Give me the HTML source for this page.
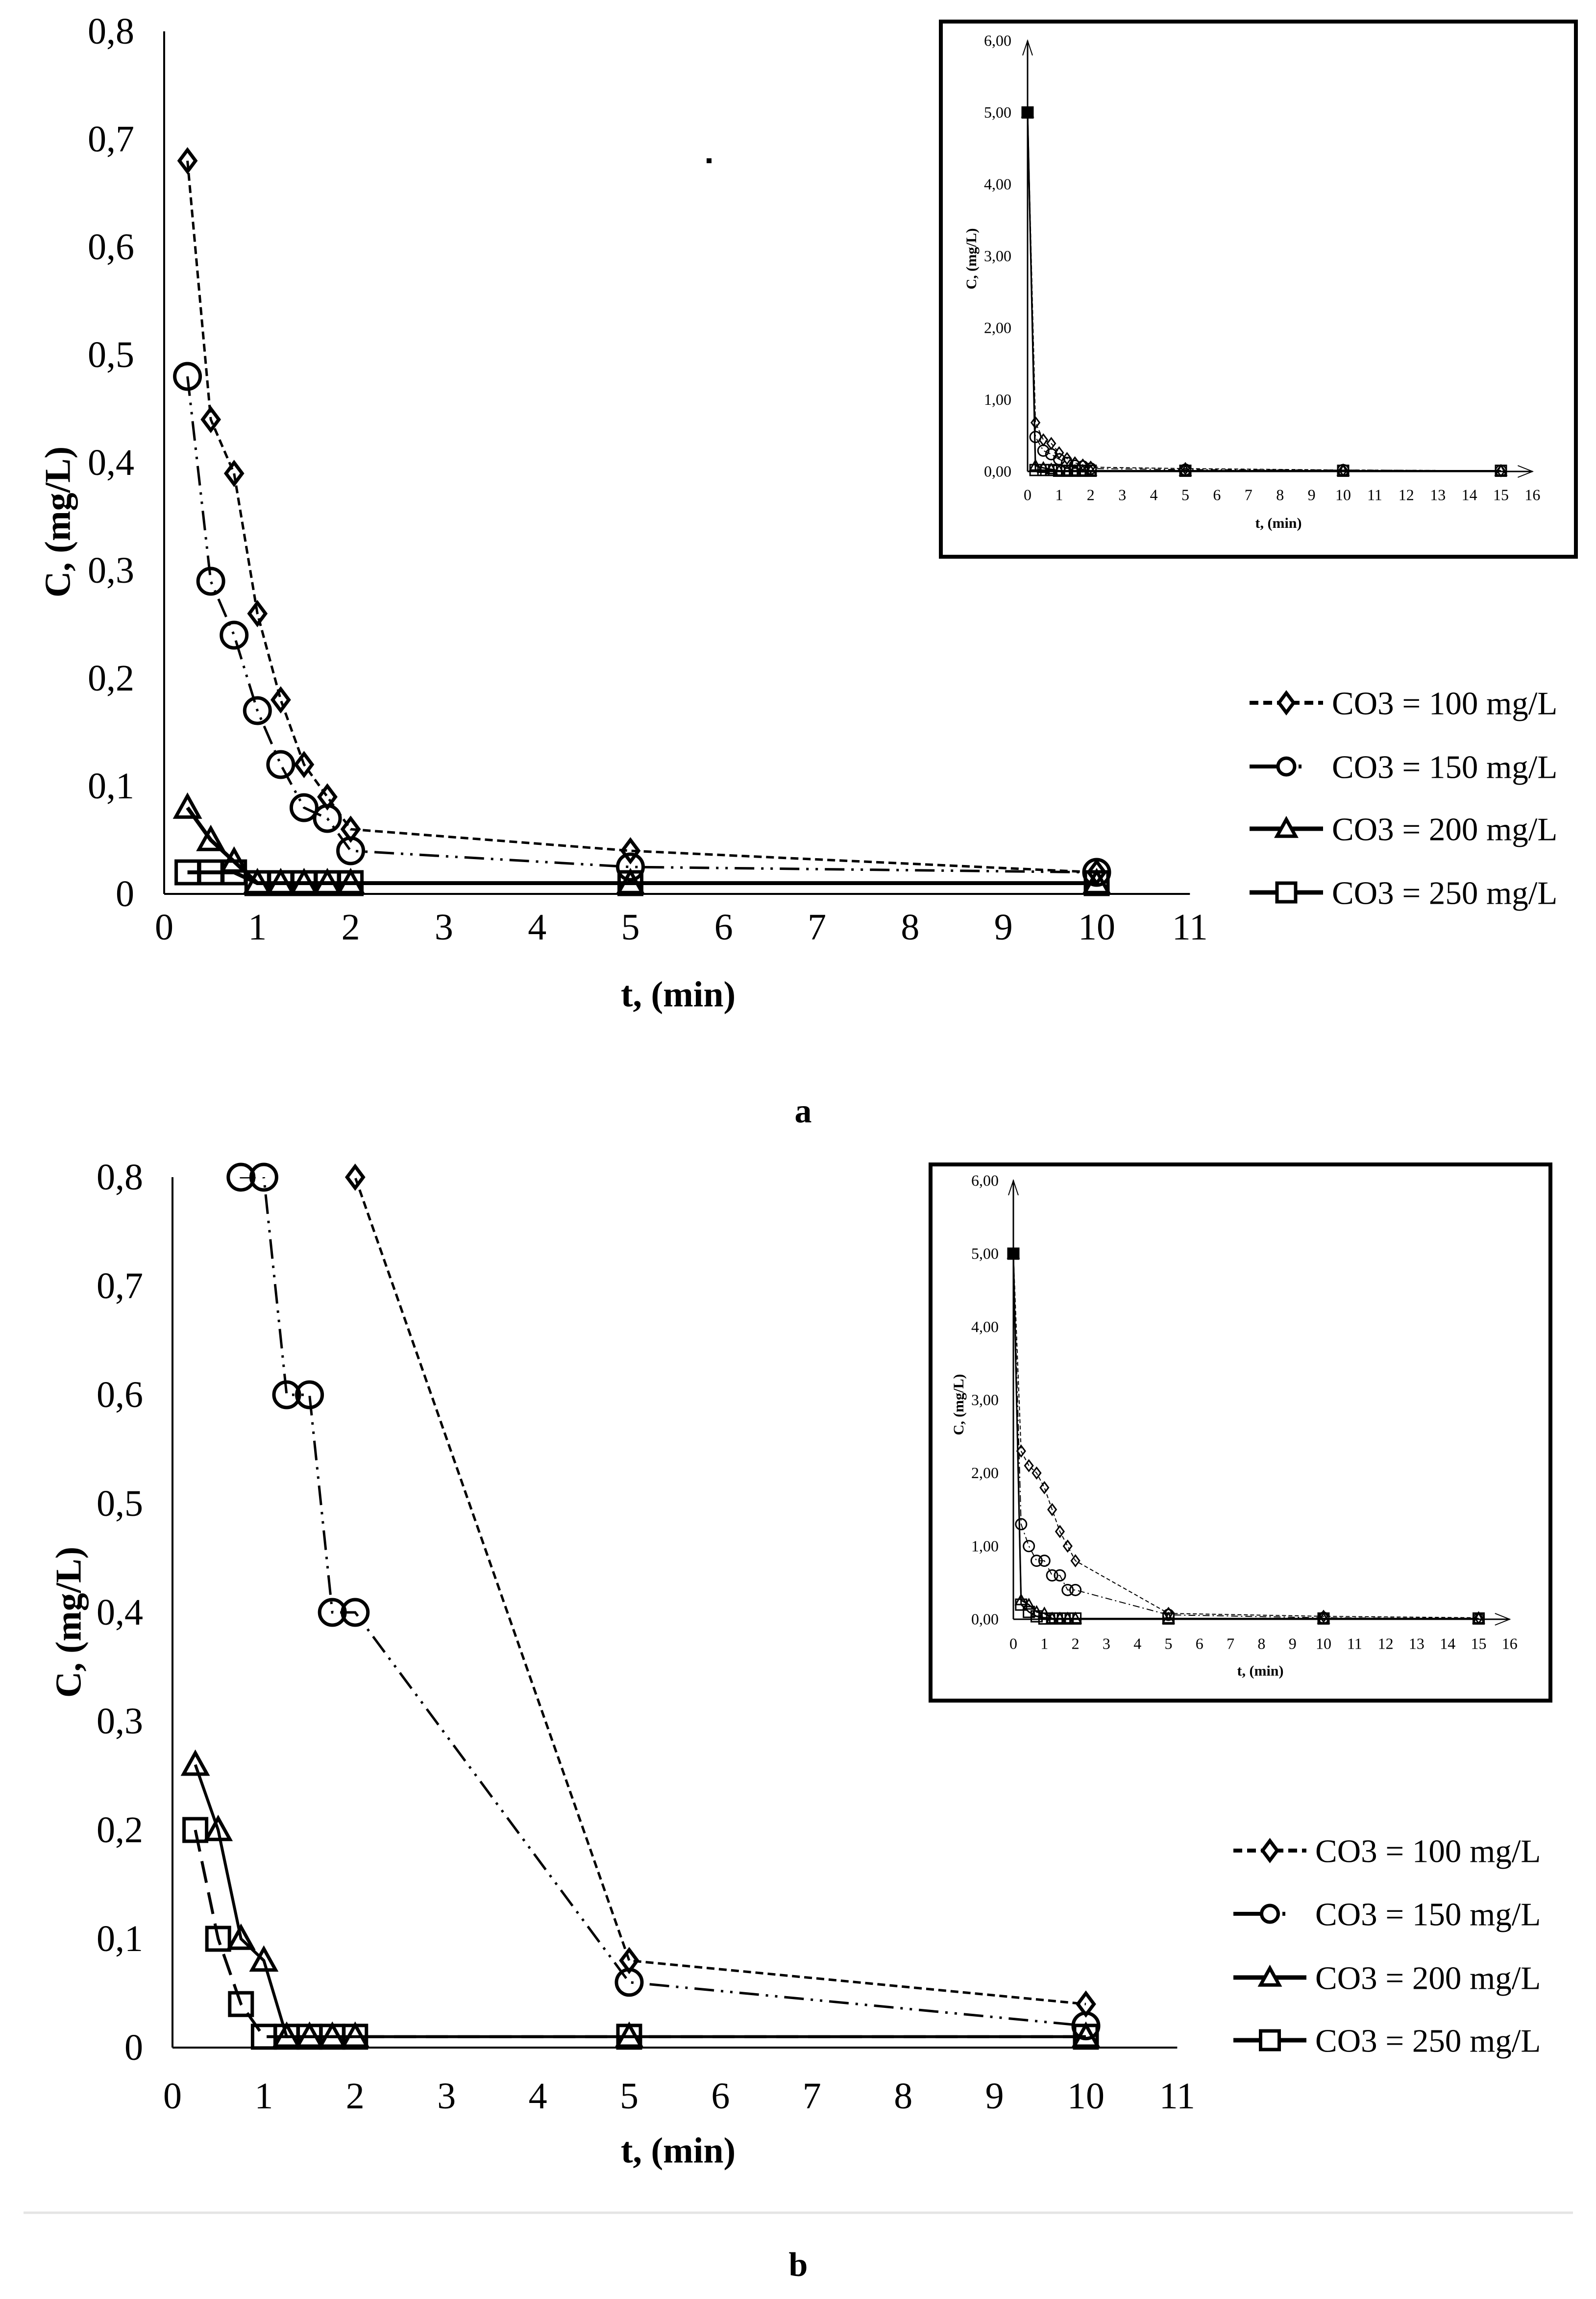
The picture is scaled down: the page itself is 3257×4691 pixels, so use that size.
<!DOCTYPE html>
<html><head><meta charset="utf-8"><style>
html,body{margin:0;padding:0;background:#fff;}
svg{display:block;font-family:"Liberation Serif",serif;}
</style></head><body>
<svg id="fig" width="3257" height="4691" viewBox="0 0 3257 4691" xmlns="http://www.w3.org/2000/svg"></svg>
<script>
// ---- data ----
const tA = [0.25,0.5,0.75,1,1.25,1.5,1.75,2,5,10];
const a100 = [0.68,0.44,0.39,0.26,0.18,0.12,0.09,0.06,0.04,0.02];
const a150 = [0.48,0.29,0.24,0.17,0.12,0.08,0.07,0.04,0.025,0.02];
const a200 = [0.08,0.05,0.03,0.01,0.01,0.01,0.01,0.01,0.01,0.01];
const a250 = [0.02,0.02,0.02,0.01,0.01,0.01,0.01,0.01,0.01,0.01];
const tIn = [0,0.25,0.5,0.75,1,1.25,1.5,1.75,2,5,10,15];
const ia100 = [5,0.68,0.44,0.39,0.26,0.18,0.12,0.09,0.06,0.04,0.02,0.01];
const ia150 = [5,0.48,0.29,0.24,0.17,0.12,0.08,0.07,0.04,0.025,0.02,0.01];
const ia200 = [5,0.08,0.05,0.03,0.01,0.01,0.01,0.01,0.01,0.01,0.01,0.01];
const ia250 = [5,0.02,0.02,0.02,0.01,0.01,0.01,0.01,0.01,0.01,0.01,0.01];
const b100 = [2.3,2.1,2.0,1.8,1.5,1.2,1.0,0.8,0.08,0.04];
const b150 = [1.3,1.0,0.8,0.8,0.6,0.6,0.4,0.4,0.06,0.02];
const b200 = [0.26,0.2,0.1,0.08,0.01,0.01,0.01,0.01,0.01,0.01];
const b250 = [0.2,0.1,0.04,0.01,0.01,0.01,0.01,0.01,0.01,0.01];
const ib100 = [5,2.3,2.1,2.0,1.8,1.5,1.2,1.0,0.8,0.08,0.04,0.02];
const ib150 = [5,1.3,1.0,0.8,0.8,0.6,0.6,0.4,0.4,0.06,0.02,0.01];
const ib200 = [5,0.26,0.2,0.1,0.08,0.01,0.01,0.01,0.01,0.01,0.01,0.01];
const ib250 = [5,0.2,0.1,0.04,0.01,0.01,0.01,0.01,0.01,0.01,0.01,0.01];
const mainYTicks = ["0","0,1","0,2","0,3","0,4","0,5","0,6","0,7","0,8"];
const mainXTicks = ["0","1","2","3","4","5","6","7","8","9","10","11"];
const inYTicks = ["0,00","1,00","2,00","3,00","4,00","5,00","6,00"];
const inXTicks = ["0","1","2","3","4","5","6","7","8","9","10","11","12","13","14","15","16"];
const legendLabels = ["CO3 = 100 mg/L","CO3 = 150 mg/L","CO3 = 200 mg/L","CO3 = 250 mg/L"];

const NS="http://www.w3.org/2000/svg";
const svg=document.getElementById('fig');
function el(tag,attrs,parent){const e=document.createElementNS(NS,tag);for(const k in attrs)e.setAttribute(k,attrs[k]);(parent||svg).appendChild(e);return e;}
function txt(s,x,y,size,anchor,weight,parent){const t=el('text',{x:x,y:y,'font-size':size,'text-anchor':anchor||'start','font-weight':weight||'normal',fill:'#000'},parent);t.textContent=s;return t;}

function marker(g,kind,x,y,s,sw,fill){
  let m;
  if(kind==='d'){m=el('polygon',{points:`${x},${y-s} ${x+s*0.75},${y} ${x},${y+s} ${x-s*0.75},${y}`,fill:fill,stroke:'#000','stroke-width':sw},g);}
  else if(kind==='o'){m=el('circle',{cx:x,cy:y,r:s,fill:fill,stroke:'#000','stroke-width':sw},g);}
  else if(kind==='t'){m=el('polygon',{points:`${x},${y-s} ${x+s},${y+s*0.8} ${x-s},${y+s*0.8}`,fill:fill,stroke:'#000','stroke-width':sw},g);}
  else {m=el('rect',{x:x-s,y:y-s,width:2*s,height:2*s,fill:fill,stroke:'#000','stroke-width':sw},g);}
  return m;
}

function drawChart(c){
  const g=el('g',{});
  
  
  const X=v=>c.x0+v*c.xu, Y=v=>c.y0-v*c.yu;
  const clipId=c.name+'-clip';
  const cp=el('clipPath',{id:clipId},g);
  el('rect',{x:c.x0-60,y:Y(c.ymax),width:(c.xmax*c.xu)+120,height:c.ymax*c.yu+60},cp);
  const ax=el('line',{x1:c.x0,y1:c.y0,x2:X(c.xmax),y2:c.y0,stroke:'#000','stroke-width':c.axw},g);
  
  
  const ay=el('line',{x1:c.x0,y1:c.y0,x2:c.x0,y2:Y(c.ymax),stroke:'#000','stroke-width':c.axw},g);
  
  
  if(c.arrows){
    el('polyline',{points:`${c.x0-10},${Y(c.ymax)+30} ${c.x0},${Y(c.ymax)} ${c.x0+10},${Y(c.ymax)+30}`,fill:'none',stroke:'#000','stroke-width':2},g);
    el('polyline',{points:`${X(c.xmax)-30},${c.y0-12} ${X(c.xmax)},${c.y0} ${X(c.xmax)-30},${c.y0+12}`,fill:'none',stroke:'#000','stroke-width':2},g);
  }
  c.yTicks.forEach((s,i)=>{const t=txt(s,c.ylx,Y(i*c.ystep)+c.fs*0.33,c.fs,'end','normal',g);
    
    });
  c.xTicks.forEach((s,i)=>{const t=txt(s,X(i),c.xly+c.fs*0.33,c.fs,'middle','normal',g);
    
    });
  const xt=txt('t, (min)',c.xtx,c.xty+c.tfs*0.33,c.tfs,'middle','bold',g);
  
  
  const yt=txt('C, (mg/L)',0,0,c.tfs,'middle','bold',g);
  yt.setAttribute('transform',`translate(${c.ytx+c.tfs*0.33},${c.yty}) rotate(-90)`);
  
  
  c.series.forEach(s=>{
    const sg=el('g',{},g);
    
    
    const pts=c.t.map((t,i)=>`${X(t)},${Y(s.v[i])}`).join(' ');
    const ln=el('polyline',{points:pts,fill:'none',stroke:'#000','stroke-width':s.w,'stroke-dasharray':s.dash||'none','clip-path':`url(#${clipId})`},sg);
    
    
    c.t.forEach((t,i)=>{
      if(s.v[i]>c.ymax+1e-9) return;
      const filled = c.arrows && t===0;
      const m=marker(sg,s.kind,X(t),Y(s.v[i]),c.ms[s.kind],c.msw,filled?'#000':'none');
      
      
    });
  });
  return g;
}

function legend(items,x1,x2,tx,ys,fs){
  const g=el('g',{});
  
  
  const mx=(x1+x2)/2;
  items.forEach((it,i)=>{
    const eg=el('g',{},g);
    
    
    const y=ys[i];
    el('line',{x1:x1,y1:y,x2:x2,y2:y,stroke:'#000','stroke-width':it.w,'stroke-dasharray':it.dash||'none'},eg);
    marker(eg,it.kind,mx,y,it.kind==='d'?20:(it.kind==='o'?17:19),7,'#fff');
    txt(legendLabels[i],tx,y+fs*0.35,fs,'start','normal',eg);
  });
}

const msMain={d:22,o:26,t:24,s:23};
const msIn={d:11,o:11,t:11,s:11};
const D100="16 9", D150="40 14 5 14 5 14";

drawChart({name:'chart-a',x0:335,y0:1824,xu:190.3,yu:2200,xmax:11,ymax:0.8,ystep:0.1,axw:4,
  yTicks:mainYTicks,xTicks:mainXTicks,ylx:274,xly:1892,fs:76,tfs:74,xtx:1384,xty:2029,ytx:118,yty:1065,
  t:tA,ms:msMain,msw:7,
  series:[{name:'series-co3-100',v:a100,kind:'d',w:5,dash:D100},
          {name:'series-co3-150',v:a150,kind:'o',w:5,dash:D150},
          {name:'series-co3-200',v:a200,kind:'t',w:8},
          {name:'series-co3-250',v:a250,kind:'s',w:8}]});
const ib=el('rect',{x:1920,y:44,width:1296,height:1092,fill:'#fff',stroke:'#000','stroke-width':8});


drawChart({name:'inset-a',x0:2097,y0:962,xu:64.4,yu:146.5,xmax:16,ymax:6,ystep:1,axw:3,arrows:true,
  yTicks:inYTicks,xTicks:inXTicks,ylx:2064,xly:1010,fs:32,tfs:30,xtx:2609,xty:1067,ytx:1982,yty:528,
  t:tIn,ms:msIn,msw:3,
  series:[{name:'inset-a-co3-100',v:ia100,kind:'d',w:2,dash:"8 5"},
          {name:'inset-a-co3-150',v:ia150,kind:'o',w:2,dash:"14 6 3 6"},
          {name:'inset-a-co3-200',v:ia200,kind:'t',w:3},
          {name:'inset-a-co3-250',v:ia250,kind:'s',w:3}]});
const dot=el('rect',{x:1442,y:323,width:10,height:10,fill:'#000'});


legend([{kind:'d',w:8,dash:"18 10"},{kind:'o',w:8,dash:"70 30 6 200"},{kind:'t',w:9},{kind:'s',w:9}],2550,2700,2718,[1434,1564,1691,1821],67);
const la=txt('a',1639,2265+25,70,'middle','bold');



drawChart({name:'chart-b',x0:352,y0:4178,xu:186.4,yu:2220,xmax:11,ymax:0.8,ystep:0.1,axw:4,
  yTicks:mainYTicks,xTicks:mainXTicks,ylx:292,xly:4277,fs:76,tfs:74,xtx:1384,xty:4388,ytx:140,yty:3310,
  t:tA,ms:msMain,msw:7,
  series:[{name:'series-co3-100',v:b100,kind:'d',w:5,dash:D100},
          {name:'series-co3-150',v:b150,kind:'o',w:5,dash:D150},
          {name:'series-co3-200',v:b200,kind:'t',w:6},
          {name:'series-co3-250',v:b250,kind:'s',w:6,dash:"45 20"}]});
const ib2=el('rect',{x:1899,y:2376,width:1265,height:1094,fill:'#fff',stroke:'#000','stroke-width':8});


drawChart({name:'inset-b',x0:2068,y0:3304,xu:63.3,yu:149.2,xmax:16,ymax:6,ystep:1,axw:3,arrows:true,
  yTicks:inYTicks,xTicks:inXTicks,ylx:2038,xly:3354,fs:32,tfs:30,xtx:2572,xty:3409,ytx:1956,yty:2866,
  t:tIn,ms:msIn,msw:3,
  series:[{name:'inset-b-co3-100',v:ib100,kind:'d',w:2,dash:"8 5"},
          {name:'inset-b-co3-150',v:ib150,kind:'o',w:2,dash:"14 6 3 6"},
          {name:'inset-b-co3-200',v:ib200,kind:'t',w:3},
          {name:'inset-b-co3-250',v:ib250,kind:'s',w:3}]});
legend([{kind:'d',w:8,dash:"18 10"},{kind:'o',w:8,dash:"70 30 6 200"},{kind:'t',w:9},{kind:'s',w:9}],2517,2666,2684,[3776,3905,4035,4163],67);
const sep=el('line',{x1:48,y1:4515,x2:3210,y2:4515,stroke:'#e4e4e4','stroke-width':5});


const lb=txt('b',1629,4619+25,70,'middle','bold');


</script>
</body></html>
